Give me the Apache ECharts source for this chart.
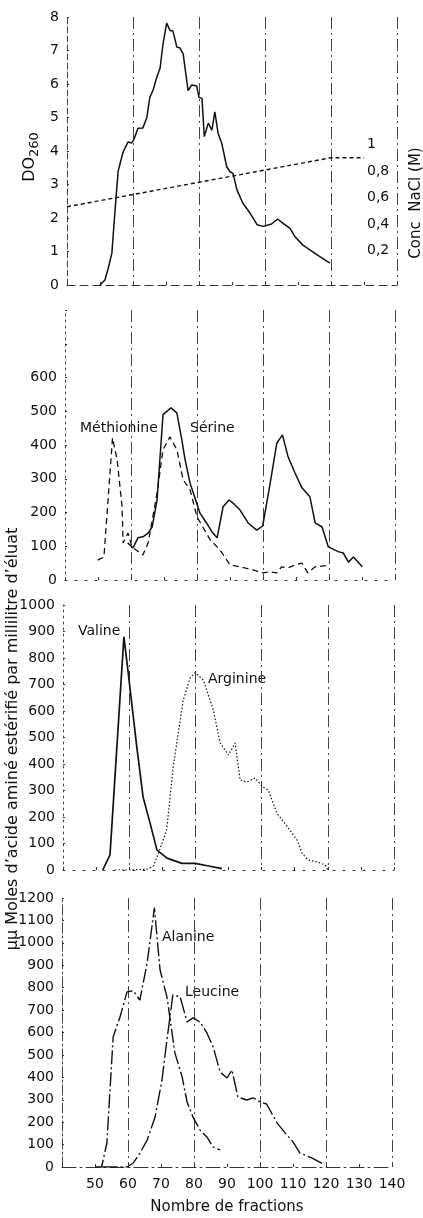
<!DOCTYPE html>
<html>
<head>
<meta charset="utf-8">
<script src="https://cdn.jsdelivr.net/npm/echarts@6/dist/echarts.min.js"></script>
<style>
  html, body { margin: 0; padding: 0; background: #fff; }
  #chart { width: 423px; height: 1218px; }
</style>
</head>
<body>
<div id="chart"></div>
<script>
// fraction number vs value
var do260 = [[50,0],[51.5,0.15],[52.5,0.5],[53.6,0.95],[54.5,2.15],[55.5,3.4],[57,3.97],[58.5,4.27],[59.6,4.24],[60.3,4.35],[61.5,4.68],[63,4.69],[64.2,5.0],[65.1,5.6],[66.1,5.82],[67.2,6.2],[68.2,6.47],[69.1,7.2],[70.2,7.82],[71.2,7.6],[72.1,7.58],[73.3,7.1],[74.2,7.08],[75.2,6.9],[76.7,5.8],[77.8,5.97],[79.3,5.94],[80,5.6],[80.9,5.57],[81.6,4.43],[82.8,4.83],[83.9,4.62],[84.8,5.17],[85.8,4.52],[86.9,4.23],[88.4,3.53],[89.4,3.38],[90.3,3.33],[91.5,2.84],[93.3,2.44],[95.5,2.14],[97.6,1.8],[99.4,1.75],[102,1.82],[103.8,1.97],[105.5,1.84],[107.6,1.69],[109.1,1.44],[111.5,1.19],[115.8,0.9],[119.7,0.65]];
var nacl = [[40,0.53],[120,0.9],[130,0.9]];

var serine = [[59,110],[60.6,95],[62.1,125],[63.6,128],[65.2,139],[66.4,157],[67.9,237],[69.7,490],[72.1,510],[73.9,495],[75.4,415],[76.4,356],[77.9,287],[79.4,243],[80.9,198],[82.9,169],[84.8,139],[86.1,125],[87.9,217],[89.7,237],[90.9,228],[93,208],[95.5,169],[98.1,148],[99.9,160],[102,277],[104.2,406],[105.9,430],[107.6,365],[109.7,317],[111.8,273],[114.2,247],[115.8,169],[117.9,157],[119.8,98],[122.8,84],[124.3,80],[125.9,53],[127.4,68],[130.1,39]];
var methionine = [[49.9,59],[51.8,68],[54.4,421],[55.8,356],[57.3,217],[57.6,110],[59.1,139],[60.3,98],[63.6,74],[65.2,110],[67.9,258],[69.7,386],[71.8,424],[73.9,386],[75.8,297],[77.9,267],[80,187],[84,119],[87,89],[90,45],[93,39],[97,30],[100,21],[102,24],[104.2,21],[105.6,39],[107.6,36],[109.8,45],[111.8,50],[113.6,21],[115.8,39],[120.3,44]];

var valine = [[52,0],[54.2,57],[58.4,880],[59.6,755],[62.3,464],[64.2,275],[66.3,177],[68.4,75],[71.4,45],[75.9,25],[79.9,25],[84,15],[88,5]];
var arginine = [[55.7,0],[60,0],[65.4,3],[67.3,15],[68.8,62],[71.3,150],[73.3,390],[76.3,640],[78.4,724],[79.9,745],[82.4,717],[85.4,604],[87.5,479],[90,434],[92,479],[93.5,340],[95.5,332],[98,347],[100.4,313],[102,302],[104.6,215],[106.2,189],[108.1,158],[110.7,113],[112.2,64],[114,38],[117,30],[119.2,19],[120,0]];

var alanine = [[50,0],[52,0],[53.6,107],[55.5,580],[57.6,670],[59.7,781],[61.6,786],[63.6,745],[65.8,911],[68,1156],[69.7,880],[71.8,759],[74.2,509],[76.4,402],[77.9,290],[79.7,223],[81.8,165],[83.9,134],[85.8,89],[87.9,76]];
var leucine = [[52,0],[59.7,0],[61.6,18],[63.6,62],[65.8,120],[68.2,223],[70.3,388],[71.8,567],[73.6,768],[75.8,759],[77.9,647],[79.7,665],[81.8,647],[83.9,598],[85.8,536],[87.9,424],[90,397],[91.5,433],[93.3,312],[96,299],[97.9,308],[100,290],[102,281],[105.2,196],[107.6,152],[110,112],[112.1,62],[115.8,40],[119.7,9]];

var fracTicks = [50, 60, 70, 80, 90, 100, 110, 120, 130, 140];

var FONT = 'DejaVu Sans';
var INK = '#111';

var chart = echarts.init(document.getElementById('chart'));

function mainX(grid, showLabels, lineType) {
  return {
    type: 'value', gridIndex: grid, min: 40, max: 140, interval: 10,
    axisLine: { show: true, lineStyle: { color: '#333', width: 1, type: lineType } },
    axisTick: { show: true, inside: true, length: 3, lineStyle: { color: '#333' } },
    axisLabel: {
      show: showLabels, color: INK, fontFamily: FONT, fontSize: 14, margin: 10,
      formatter: function (v) { return fracTicks.indexOf(v) >= 0 ? String(v) : ''; }
    },
    splitLine: { show: false }
  };
}
function splitX(grid) {
  return {
    type: 'value', gridIndex: grid, min: 40, max: 140, interval: 20,
    axisLine: { show: false }, axisTick: { show: false }, axisLabel: { show: false },
    splitLine: { show: true, showMinLine: false, lineStyle: { color: '#444', width: 1, type: [12, 4, 2, 4] } }
  };
}
function leftY(grid, max, interval, maxLabel, lineType) {
  return {
    type: 'value', gridIndex: grid, min: 0, max: max, interval: interval,
    axisLine: { show: true, lineStyle: { color: '#444', width: 1, type: lineType } },
    axisTick: { show: true, inside: true, length: 2, lineStyle: { color: '#333' } },
    axisLabel: {
      color: INK, fontFamily: FONT, fontSize: 14, margin: 8,
      formatter: function (v) { return v <= maxLabel ? String(v) : ''; }
    },
    splitLine: { show: false }
  };
}
function line(name, data, xi, yi, type, width) {
  return {
    name: name, type: 'line', data: data, xAxisIndex: xi, yAxisIndex: yi,
    symbol: 'none', smooth: false, silent: true,
    lineStyle: { color: INK, width: width, type: type }
  };
}
function label(text, x, y) {
  return { type: 'text', x: x, y: y, style: { text: text, fill: INK, font: '14px "' + FONT + '"', textVerticalAlign: 'middle', verticalAlign: 'middle' } };
}
function vtitle(text, x, y, size) {
  return {
    type: 'text', x: x, y: y, rotation: Math.PI / 2,
    style: { text: text, fill: INK, font: size + 'px "' + FONT + '"', textAlign: 'center', align: 'center', textVerticalAlign: 'middle', verticalAlign: 'middle' }
  };
}

chart.setOption({
  animation: false,
  backgroundColor: '#fff',
  grid: [
    { left: 67, right: 26, top: 17, height: 268 },
    { left: 67, right: 26, top: 38.5, height: 238.5 },
    { left: 65, right: 28, top: 310, height: 270 },
    { left: 63, right: 29, top: 605, height: 265 },
    { left: 62, right: 31, top: 898, height: 269 }
  ],
  xAxis: [
    mainX(0, false, [8, 5]), splitX(0),
    { type: 'value', gridIndex: 1, min: 40, max: 140, show: false },
    mainX(2, false, [2, 8]), splitX(2),
    mainX(3, false, [2, 8]), splitX(3),
    mainX(4, true, [14, 4, 2, 4]), splitX(4)
  ],
  yAxis: [
    leftY(0, 8, 1, 8, [6, 3]),
    {
      type: 'value', gridIndex: 1, position: 'right', min: 0, max: 1.8, interval: 0.2,
      axisLine: { show: false }, axisTick: { show: false }, splitLine: { show: false },
      axisLabel: {
        inside: true, align: 'left', margin: 30, color: INK, fontFamily: FONT, fontSize: 14,
        formatter: function (v) {
          var r = Math.round(v * 10) / 10;
          if (r <= 0 || r > 1) return '';
          return r === 1 ? '1' : String(r).replace('.', ',');
        }
      }
    },
    leftY(2, 800, 100, 600, [2, 4]),
    leftY(3, 1000, 100, 1000, [2, 4]),
    leftY(4, 1200, 100, 1200, [10, 3, 2, 3])
  ],
  series: [
    line('DO260', do260, 0, 0, 'solid', 1.5),
    line('NaCl', nacl, 2, 1, [4, 3], 1.4),
    line('Sérine', serine, 3, 2, 'solid', 1.5),
    line('Méthionine', methionine, 3, 2, [6, 4], 1.3),
    line('Valine', valine, 5, 3, 'solid', 1.7),
    line('Arginine', arginine, 5, 3, [1.5, 2], 1.2),
    line('Alanine', alanine, 7, 4, [14, 3, 2, 3], 1.4),
    line('Leucine', leucine, 7, 4, [16, 3, 2, 3], 1.4)
  ],
  graphic: [
    {
      type: 'text', x: 30, y: 157, rotation: Math.PI / 2,
      style: {
        text: '{a|DO}{b|260}', fill: INK, textAlign: 'center', align: 'center', textVerticalAlign: 'middle', verticalAlign: 'middle',
        rich: {
          a: { fontFamily: FONT, fontSize: 16, fill: INK },
          b: { fontFamily: FONT, fontSize: 13, fill: INK, padding: [9, 0, 0, 0] }
        }
      }
    },
    vtitle('Conc  NaCl (M)', 416, 203, 15),
    vtitle('\u03bc\u03bc Moles d\u2019acide aminé estérifié par millilitre d\u2019éluat', 13, 739, 16),
    { type: 'text', x: 227, y: 1207, style: { text: 'Nombre de fractions', fill: INK, font: '15px "' + FONT + '"', textAlign: 'center', align: 'center', textVerticalAlign: 'middle', verticalAlign: 'middle' } },
    label('Méthionine', 80, 428),
    label('Sérine', 190, 428),
    label('Valine', 78, 631),
    label('Arginine', 208, 679),
    label('Alanine', 162, 937),
    label('Leucine', 185, 992)
  ]
});
</script>
</body>
</html>
